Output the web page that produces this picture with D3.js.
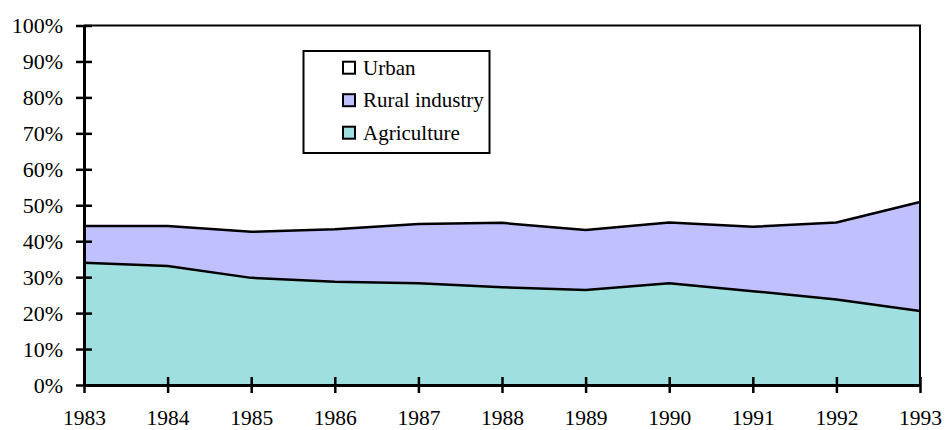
<!DOCTYPE html>
<html><head><meta charset="utf-8">
<script src="https://cdn.jsdelivr.net/npm/d3@7/dist/d3.min.js"></script>
</head><body style="margin:0"><svg id="c" width="946" height="430" style="display:block;background:#fff"></svg>
<script>
const years = [1983,1984,1985,1986,1987,1988,1989,1990,1991,1992,1993];
const agriculture   = [34.0,33.1,29.8,28.7,28.3,27.2,26.4,28.3,26.1,23.8,20.6];
const ruralIndustry = [10.2,11.1,12.8,14.6,16.5,17.9,16.7,16.9,17.9,21.4,30.3];
const urban         = [55.8,55.8,57.4,56.7,55.2,54.9,56.9,54.8,56.0,54.8,49.1];
const seriesNames = ["Agriculture","Rural industry","Urban"];
const legendItems = ["Urban","Rural industry","Agriculture"];
const yTicks = [0,10,20,30,40,50,60,70,80,90,100];
const colors = {"Agriculture":"#a0dfe0","Rural industry":"#c0c0ff","Urban":"#ffffff"};
const FONT = "Liberation Serif";

const svg = d3.select("#c");
const L=84,R=920,T=25.5,B=385;
const x = d3.scaleLinear().domain([years[0],years[years.length-1]]).range([L,R]);
const y = d3.scaleLinear().domain([0,100]).range([B,T]);

const rows = years.map((yr,i)=>({year:yr,"Agriculture":agriculture[i],"Rural industry":ruralIndustry[i],"Urban":urban[i]}));
const stack = d3.stack().keys(seriesNames)(rows);
const area = d3.area().x(d=>x(d.data.year)).y0(d=>y(d[0])).y1(d=>y(d[1]));
const line = d3.line().x(d=>x(d.data.year)).y(d=>y(d[1]));

svg.append("g").selectAll("path").data(stack).join("path")
  .attr("d",area).attr("fill",d=>colors[d.key]).attr("stroke","none");
svg.append("g").selectAll("path").data(stack.slice(0,2)).join("path")
  .attr("d",line).attr("fill","none").attr("stroke","#000").attr("stroke-width",2.5).attr("stroke-linejoin","round");

svg.append("path").attr("d",`M${L},${T}H${R}V${B}`).attr("fill","none").attr("stroke","#000").attr("stroke-width",2);

const yAxis = svg.append("g").attr("transform",`translate(${L},0)`)
  .call(d3.axisLeft(y).tickValues(yTicks).tickFormat(d=>d+"%").tickSize(8).tickSizeOuter(0));
yAxis.attr("font-family",null).attr("font-size",null);
yAxis.select(".domain").attr("stroke-width",3);
yAxis.selectAll(".tick line").attr("x2",8).attr("x1",-8).attr("stroke-width",2.5);
yAxis.selectAll(".tick text").attr("x",-21).attr("fill","#000")
  .attr("font-family",FONT).attr("font-size",22);

const xAxis = svg.append("g").attr("transform",`translate(0,${B})`)
  .call(d3.axisBottom(x).tickValues(years).tickFormat(d3.format("d")).tickSize(8).tickSizeOuter(0));
xAxis.attr("font-family",null).attr("font-size",null);
xAxis.select(".domain").attr("stroke-width",3);
xAxis.selectAll(".tick line").attr("y1",-8).attr("y2",8).attr("stroke-width",2.5);
xAxis.selectAll(".tick text").attr("y",40).attr("dy",0).attr("fill","#000")
  .attr("font-family",FONT).attr("font-size",21.5);

const lg = svg.append("g");
lg.append("rect").attr("x",303.5).attr("y",51).attr("width",186).attr("height",102).attr("fill","#fff").attr("stroke","#000").attr("stroke-width",2);
legendItems.forEach((k,i)=>{
  const cy = 67.7 + i*32.5;
  lg.append("rect").attr("x",343).attr("y",cy-6).attr("width",12).attr("height",12).attr("fill",colors[k]).attr("stroke","#000").attr("stroke-width",2);
  lg.append("text").attr("x",363).attr("y",cy+7).attr("font-size",21).attr("font-family",FONT).attr("fill","#000").text(k);
});
</script></body></html>
